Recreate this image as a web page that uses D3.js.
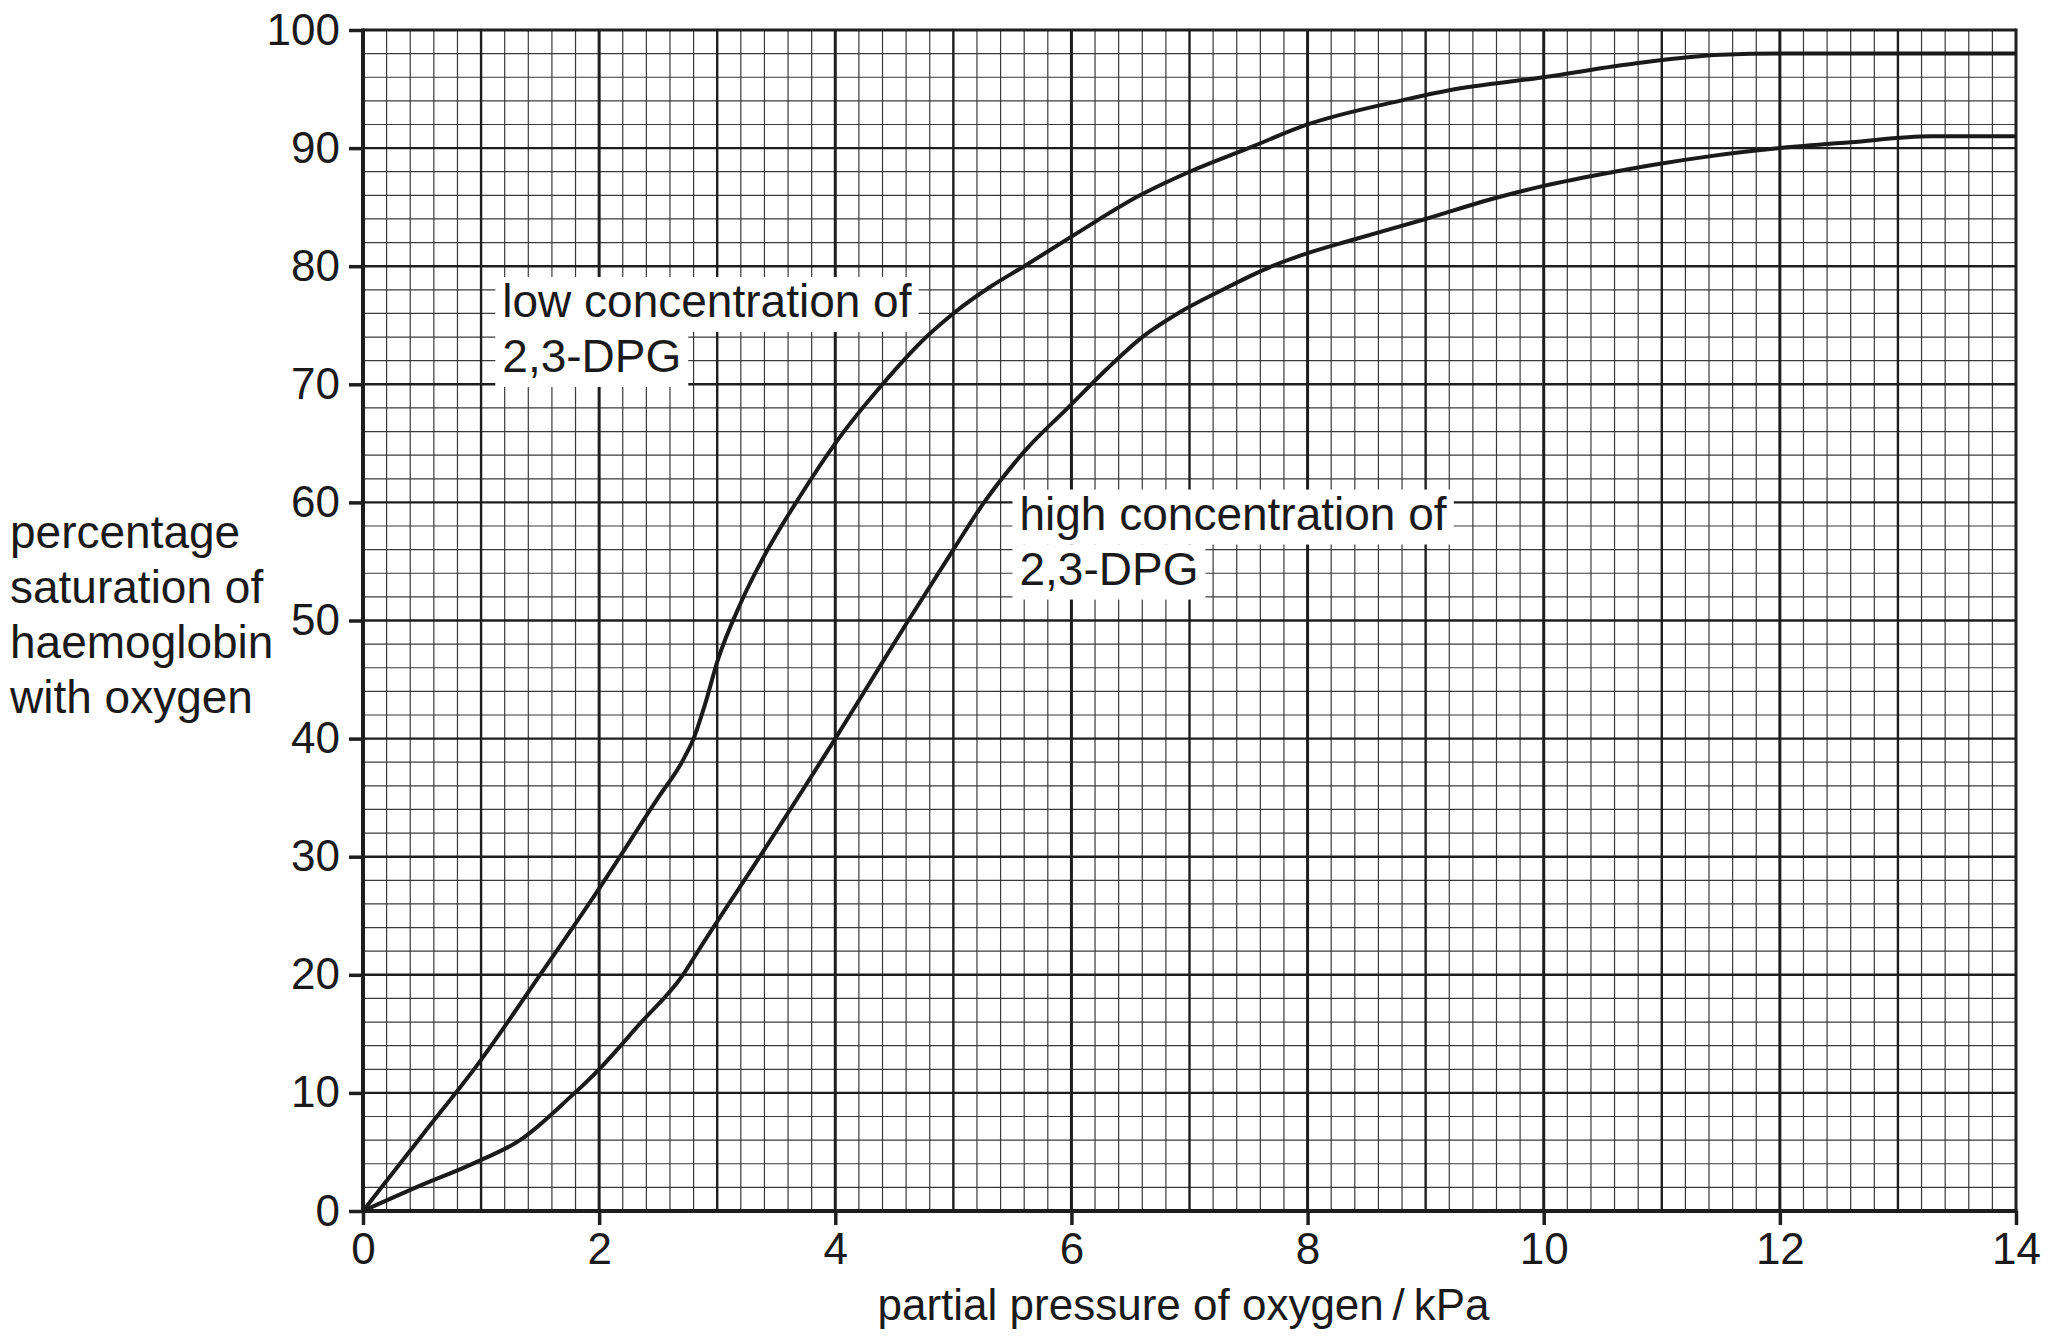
<!DOCTYPE html>
<html>
<head>
<meta charset="utf-8">
<script src="https://cdn.jsdelivr.net/npm/d3@7"></script>
<style>
  body { margin: 0; background: #fff; }
  text { font-family: "Liberation Sans", Arial, sans-serif; fill: #1a1a1a; }
</style>
</head>
<body>
<div id="chart"></div>
<script>

// curve values
var lowP   = [0, 0.5, 1.0, 1.5, 2.0, 2.5, 2.7, 2.8, 2.9, 3.0, 3.2, 3.4, 3.7, 4.0, 4.4, 4.77, 5.0, 5.32, 5.6, 6.0, 6.58, 7.0, 7.5, 8.0, 8.78, 9.2, 10.0, 10.8, 11.5, 12.0, 14.0];
var lowSat = [0, 6.4, 12.8, 20, 27.3, 35, 38, 40, 43, 46.5, 51.5, 55.5, 60.5, 65, 70, 74, 76, 78.3, 80, 82.5, 86, 88, 90, 92, 94, 94.9, 96, 97.2, 97.9, 98, 98];

var highP   = [0, 0.45, 0.95, 1.33, 1.75, 2.0, 2.34, 2.71, 2.85, 3.38, 4.0, 4.34, 4.6, 5.0, 5.26, 5.6, 6.0, 6.3, 6.6, 6.9, 7.28, 7.7, 8.0, 8.37, 9.0, 9.6, 10.0, 10.6, 11.0, 11.4, 12.0, 12.6, 13.28, 14.0];
var highSat = [0, 2, 4.1, 6, 9.6, 12, 15.8, 20, 22.2, 30.3, 40, 45.5, 49.7, 56, 60, 64.3, 68.3, 71.3, 74, 76, 78, 80, 81.1, 82.2, 84, 85.8, 86.8, 88, 88.7, 89.3, 90, 90.5, 91, 91];

// tick labels
var xTicks = [0, 2, 4, 6, 8, 10, 12, 14];
var yTicks = [0, 10, 20, 30, 40, 50, 60, 70, 80, 90, 100];

// text
var yTitle = ["percentage", "saturation of", "haemoglobin", "with oxygen"];
var xTitle = "partial pressure of oxygen\u2009/\u2009kPa";
var lowLabel = ["low concentration of", "2,3-DPG"];
var highLabel = ["high concentration of", "2,3-DPG"];

var margin = { top: 30, right: 36, bottom: 125, left: 363 },
    width = 2052 - margin.left - margin.right,
    height = 1336 - margin.top - margin.bottom;

var root = d3.select("#chart")
    .append("svg")
    .attr("width", 2052)
    .attr("height", 1336);

var svg = root.append("g")
    .attr("transform", "translate(" + margin.left + "," + margin.top + ")");

var x = d3.scaleLinear().domain([0, 14]).range([0, width]);
var y = d3.scaleLinear().domain([0, 100]).range([height, 0]);

// graph paper: minor lines every 0.2 kPa / 2 %
var minorX = d3.range(0, 70).map(function (i) { return i / 5; }).filter(function (d, i) { return i % 5 != 0; });
var minorY = d3.range(0, 50).map(function (i) { return i * 2; }).filter(function (d, i) { return i % 5 != 0; });
var majorX = d3.range(1, 14);
var majorY = d3.range(10, 100, 10);

svg.append("g").selectAll("line")
    .data(minorX).enter().append("line")
    .attr("x1", function (d) { return x(d) }).attr("x2", function (d) { return x(d) })
    .attr("y1", 0).attr("y2", height)
    .attr("stroke", "#3a3a3a").attr("stroke-width", 1.2);

svg.append("g").selectAll("line")
    .data(minorY).enter().append("line")
    .attr("y1", function (d) { return y(d) }).attr("y2", function (d) { return y(d) })
    .attr("x1", 0).attr("x2", width)
    .attr("stroke", "#3a3a3a").attr("stroke-width", 1.2);

svg.append("g").selectAll("line")
    .data(majorX).enter().append("line")
    .attr("x1", function (d) { return x(d) }).attr("x2", function (d) { return x(d) })
    .attr("y1", 0).attr("y2", height)
    .attr("stroke", "#1e1e1e").attr("stroke-width", function (d) { return d % 2 == 0 ? 3 : 2.4 });

svg.append("g").selectAll("line")
    .data(majorY).enter().append("line")
    .attr("y1", function (d) { return y(d) }).attr("y2", function (d) { return y(d) })
    .attr("x1", 0).attr("x2", width)
    .attr("stroke", "#1e1e1e").attr("stroke-width", 2.4);

// top and right border
svg.append("line").attr("x1", 0).attr("x2", width).attr("y1", 0).attr("y2", 0)
    .attr("stroke", "#1e1e1e").attr("stroke-width", 3);
svg.append("line").attr("x1", width).attr("x2", width).attr("y1", -1.5).attr("y2", height)
    .attr("stroke", "#1e1e1e").attr("stroke-width", 3);

// axes
var xAxis = svg.append("g")
    .attr("transform", "translate(0," + height + ")")
    .call(d3.axisBottom(x).tickValues(xTicks).tickSize(14).tickPadding(8).tickFormat(d3.format("d")));
var yAxis = svg.append("g")
    .call(d3.axisLeft(y).tickValues(yTicks).tickSize(14).tickPadding(9).tickFormat(d3.format("d")));

[xAxis, yAxis].forEach(function (g) {
    g.select(".domain").remove();
    g.selectAll(".tick line").attr("stroke", "#1e1e1e").attr("stroke-width", 3.5);
    g.selectAll(".tick text").style("font-size", "44px").attr("fill", "#1a1a1a");
});

svg.append("line").attr("x1", -2).attr("x2", width + 1.5).attr("y1", height).attr("y2", height)
    .attr("stroke", "#1e1e1e").attr("stroke-width", 4);
svg.append("line").attr("x1", 0).attr("x2", 0).attr("y1", -1.5).attr("y2", height + 2)
    .attr("stroke", "#1e1e1e").attr("stroke-width", 4);

// curves
var line = d3.line()
    .x(function (d) { return x(d[0]) })
    .y(function (d) { return y(d[1]) })
    .curve(d3.curveMonotoneX);

svg.append("path")
    .datum(d3.zip(lowP, lowSat))
    .attr("d", line)
    .attr("fill", "none")
    .attr("stroke", "#1a1a1a")
    .attr("stroke-width", 4);

svg.append("path")
    .datum(d3.zip(highP, highSat))
    .attr("d", line)
    .attr("fill", "none")
    .attr("stroke", "#1a1a1a")
    .attr("stroke-width", 4);

// curve labels on white boxes
function addLabel(lines, px, py) {
    var g = svg.append("g");
    lines.forEach(function (t, i) {
        var txt = g.append("text")
            .attr("x", x(px))
            .attr("y", y(py) + i * 55)
            .style("font-size", "46px")
            .text(t);
        var b = txt.node().getBBox();
        g.insert("rect", "text")
            .attr("x", b.x - 7)
            .attr("y", y(py) + i * 55 - 40)
            .attr("width", b.width + 14)
            .attr("height", 55)
            .attr("fill", "#fff");
    });
}
addLabel(lowLabel, 1.18, 75.7);
addLabel(highLabel, 5.56, 57.7);

// y title
root.append("text")
    .selectAll("tspan")
    .data(yTitle).enter().append("tspan")
    .attr("x", 10)
    .attr("y", function (d, i) { return 548 + i * 55 })
    .style("font-size", "46px")
    .text(function (d) { return d });

// x title
root.append("text")
    .attr("x", margin.left + width / 2 - 6)
    .attr("y", 1320)
    .attr("text-anchor", "middle")
    .style("font-size", "44px")
    .text(xTitle);

</script>
</body>
</html>
